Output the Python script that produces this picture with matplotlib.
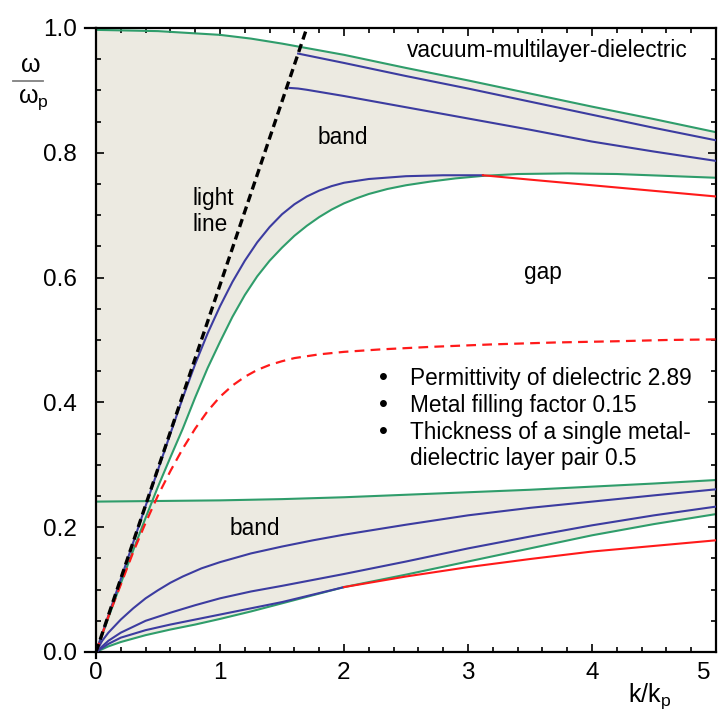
import numpy as np
import matplotlib
matplotlib.use('Agg')
import matplotlib.pyplot as plt
from matplotlib.lines import Line2D
from matplotlib.transforms import ScaledTranslation

plt.rcParams['font.family'] = ['Liberation Sans', 'DejaVu Sans']
plt.rcParams['mathtext.default'] = 'regular'
plt.rcParams['lines.scale_dashes'] = False

# ---- data (k/kp, w/wp) ----
# upper band, top edge (green)
g1_x = [0, 0.5, 1.0, 1.25, 1.5, 1.75, 2.0, 2.5, 3.0, 3.5, 4.0, 4.5, 5.0]
g1_y = [0.997, 0.995, 0.989, 0.983, 0.975, 0.966, 0.957, 0.936, 0.916, 0.895, 0.874, 0.854, 0.833]

# upper band, lower edge (green)
g2_x = [0, 0.2, 0.3, 0.4, 0.5, 0.6, 0.7, 0.8, 0.9, 1.0, 1.1, 1.2, 1.3, 1.4, 1.5, 1.6, 1.7,
        1.8, 1.9, 2.0, 2.1, 2.2, 2.35, 2.5, 2.7, 2.9, 3.12, 3.4, 3.8, 4.2, 4.6, 5.0]
g2_y = [0, 0.110, 0.163, 0.215, 0.265, 0.312, 0.358, 0.408, 0.455, 0.497, 0.537, 0.572,
        0.602, 0.627, 0.648, 0.667, 0.683, 0.697, 0.709, 0.719, 0.727, 0.734, 0.742, 0.748,
        0.754, 0.759, 0.763, 0.766, 0.767, 0.766, 0.763, 0.760]

# upper band modes (blue)
b1_x = [1.63, 2.0, 2.5, 3.0, 3.5, 4.0, 4.5, 5.0]
b1_y = [0.959, 0.944, 0.923, 0.903, 0.882, 0.861, 0.840, 0.820]
b2_x = [1.56, 1.63, 1.7, 1.85, 2.0, 2.5, 3.0, 3.5, 4.0, 4.5, 5.0]
b2_y = [0.904, 0.903, 0.901, 0.896, 0.891, 0.873, 0.855, 0.837, 0.818, 0.802, 0.787]
b3_x = [0, 0.2, 0.4, 0.6, 0.7, 0.8, 0.9, 1.0, 1.1, 1.2, 1.3, 1.4, 1.5, 1.6, 1.7, 1.8, 1.9,
        2.0, 2.2, 2.5, 2.8, 3.12]
b3_y = [0, 0.117, 0.234, 0.350, 0.4075, 0.4615, 0.5105, 0.554, 0.593, 0.627, 0.6565, 0.681,
        0.7015, 0.7175, 0.730, 0.7394, 0.7466, 0.752, 0.758, 0.7625, 0.764, 0.764]

# red continuation of the upper mode
r1_x = [3.12, 3.5, 4.0, 4.5, 5.0]
r1_y = [0.764, 0.757, 0.748, 0.739, 0.730]

# red dashed curve
rd_x = [0, 0.1, 0.2, 0.3, 0.4, 0.5, 0.6, 0.7, 0.8, 0.9, 1.0, 1.1, 1.2, 1.3, 1.4, 1.5, 1.6,
        1.8, 2.0, 2.3, 2.7, 3.2, 3.7, 4.2, 4.6, 5.0]
rd_y = [0, 0.057, 0.108, 0.160, 0.207, 0.251, 0.290, 0.326, 0.358, 0.386, 0.409, 0.427,
        0.441, 0.452, 0.460, 0.466, 0.471, 0.477, 0.481, 0.485, 0.489, 0.493, 0.496, 0.498,
        0.500, 0.501]

# lower band, top edge (green)
g3_x = [0, 0.5, 1.0, 1.5, 2.0, 2.5, 3.0, 3.5, 4.0, 4.5, 5.0]
g3_y = [0.241, 0.242, 0.243, 0.245, 0.248, 0.252, 0.256, 0.260, 0.265, 0.270, 0.2756]

# lower band, bottom edge (green)
g4_x = [0, 0.1, 0.2, 0.4, 0.6, 0.8, 1.0, 1.25, 1.5, 1.75, 2.0, 2.5, 3.0, 3.5, 4.0, 4.5, 5.0]
g4_y = [0, 0.009, 0.016, 0.027, 0.036, 0.044, 0.053, 0.065, 0.078, 0.091, 0.104, 0.124,
        0.145, 0.166, 0.187, 0.205, 0.221]

# lower band modes (blue)
b4_x = [0, 0.05, 0.1, 0.2, 0.3, 0.4, 0.5, 0.6, 0.7, 0.85, 1.0, 1.25, 1.5, 1.75, 2.0, 2.5,
        3.0, 3.5, 4.0, 4.5, 5.0]
b4_y = [0, 0.018, 0.031, 0.052, 0.070, 0.086, 0.099, 0.111, 0.121, 0.134, 0.144, 0.158,
        0.169, 0.179, 0.188, 0.204, 0.219, 0.231, 0.241, 0.251, 0.2607]
b5_x = [0, 0.1, 0.2, 0.4, 0.6, 0.8, 1.0, 1.25, 1.5, 2.0, 2.5, 3.0, 3.5, 4.0, 4.5, 5.0]
b5_y = [0, 0.018, 0.031, 0.050, 0.063, 0.075, 0.086, 0.097, 0.106, 0.125, 0.145, 0.166,
        0.185, 0.203, 0.219, 0.233]
b6_x = [0, 0.1, 0.2, 0.4, 0.6, 0.8, 1.0, 1.25, 1.5, 1.75, 2.0]
b6_y = [0, 0.013, 0.023, 0.035, 0.044, 0.052, 0.060, 0.070, 0.080, 0.092, 0.104]

# red continuation of the lower mode
r2_x = [2.0, 2.5, 3.0, 3.5, 4.0, 4.5, 5.0]
r2_y = [0.104, 0.121, 0.136, 0.149, 0.161, 0.170, 0.179]

# light line in the dielectric
light_x = [0, 1.7]
light_y = [0, 1.0]

x_ticks = [0, 1, 2, 3, 4, 5]
y_ticks = [0.0, 0.2, 0.4, 0.6, 0.8, 1.0]
y_ticklabels = ['0.0', '0.2', '0.4', '0.6', '0.8', '1.0']

bullets = ['Permittivity of dielectric 2.89',
           'Metal filling factor 0.15',
           'Thickness of a single metal-',
           'dielectric layer pair 0.5']

GREEN = '#2F9D6B'
BLUE = '#3C3CA0'
RED = '#FF1A1A'
FILL = '#ECEAE1'

fig = plt.figure(figsize=(7.18, 7.10), dpi=100)
ax = fig.add_axes([96 / 718, 58 / 710, 620 / 718, 624 / 710])

# shaded bands
ax.fill(np.concatenate([g1_x, g2_x[::-1]]), np.concatenate([g1_y, g2_y[::-1]]),
        color=FILL, lw=0, zorder=0)
ax.fill(np.concatenate([g3_x, g4_x[::-1]]), np.concatenate([g3_y, g4_y[::-1]]),
        color=FILL, lw=0, zorder=0)

lw = 1.5
for xs, ys in [(g1_x, g1_y), (g2_x, g2_y), (g3_x, g3_y), (g4_x, g4_y)]:
    ax.plot(xs, ys, color=GREEN, lw=lw, zorder=2, solid_joinstyle='round')
for xs, ys in [(b1_x, b1_y), (b2_x, b2_y), (b3_x, b3_y), (b4_x, b4_y), (b5_x, b5_y), (b6_x, b6_y)]:
    ax.plot(xs, ys, color=BLUE, lw=lw, zorder=3, solid_joinstyle='round')
ax.plot(r1_x, r1_y, color=RED, lw=lw, zorder=3)
ax.plot(r2_x, r2_y, color=RED, lw=lw, zorder=3)
ax.plot(rd_x, rd_y, color=RED, lw=1.6, dashes=(7, 4.5), zorder=3)
ax.plot(light_x, light_y, color='black', lw=2.4, dashes=(6, 3.5), zorder=4)

ax.set_xlim(0, 5)
ax.set_ylim(0, 1)
ax.set_xticks(x_ticks)
ax.set_xticklabels([str(t) for t in x_ticks])
ax.set_xticks(np.arange(0, 5.01, 0.2), minor=True)
ax.set_yticks(y_ticks)
ax.set_yticklabels(y_ticklabels)
ax.set_yticks(np.arange(0, 1.001, 0.05), minor=True)

for sp in ax.spines.values():
    sp.set_linewidth(1.6)
ax.tick_params(which='both', direction='in', top=True, right=True, width=1.2, labelsize=17.5)
ax.tick_params(which='major', length=6)
ax.tick_params(which='minor', length=3.5)
ax.tick_params(axis='x', pad=7.5)
ax.tick_params(axis='y', pad=14)
lab5 = ax.get_xticklabels()[-1]
lab5.set_transform(lab5.get_transform() + ScaledTranslation(-0.12, 0, fig.dpi_scale_trans))

# small spine extensions at the corners
ax.plot([-0.018, 0], [0, 0], color='black', lw=1.6, transform=ax.transAxes, clip_on=False)
ax.plot([-0.018, 0], [1, 1], color='black', lw=1.6, transform=ax.transAxes, clip_on=False)
ax.plot([0, 0], [-0.009, 0], color='black', lw=1.6, transform=ax.transAxes, clip_on=False)

# annotations
fs = 16.3
ax.text(2.506, 0.953, 'vacuum-multilayer-dielectric', fontsize=fs, ha='left', va='baseline')
ax.text(1.79, 0.814, 'band', fontsize=fs, ha='left', va='baseline')
ax.text(0.782, 0.716, 'light', fontsize=fs, ha='left', va='baseline')
ax.text(0.782, 0.675, 'line', fontsize=fs, ha='left', va='baseline')
ax.text(3.45, 0.598, 'gap', fontsize=fs, ha='left', va='baseline')
ax.text(1.075, 0.1875, 'band', fontsize=fs, ha='left', va='baseline')

bullet_y = [0.428, 0.385, 0.341, 0.299]
for i, (t, yy) in enumerate(zip(bullets, bullet_y)):
    ax.text(2.532, yy, t, fontsize=fs, ha='left', va='baseline')
    if i < 3:
        ax.text(2.317, yy, '\u2022', fontsize=fs + 2, ha='center', va='baseline')

# axis labels
fig.text(628 / 718, 1 - 701.7 / 710, 'k/k$_{p}$', fontsize=18, ha='left', va='baseline')
fig.text(31 / 718, 1 - 72 / 710, '\u03c9', fontsize=18, ha='center', va='baseline')
fig.add_artist(Line2D([13 / 718, 43 / 718], [1 - 81 / 710, 1 - 81 / 710], color='#808080', lw=1.3))
fig.text(18 / 718, 1 - 103 / 710, '\u03c9$_{p}$', fontsize=18, ha='left', va='baseline')

fig.savefig('out.png', dpi=100)
